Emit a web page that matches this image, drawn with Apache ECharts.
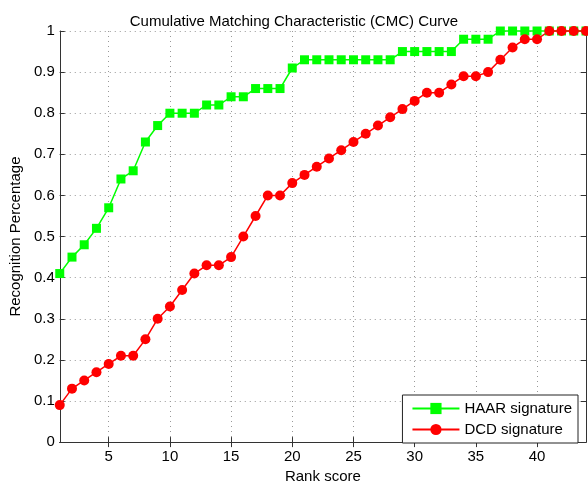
<!DOCTYPE html>
<html>
<head>
<meta charset="utf-8">
<script src="https://cdn.jsdelivr.net/npm/echarts@6/dist/echarts.min.js"></script>
<style>
html,body{margin:0;padding:0;background:#fff;}
#chart{width:588px;height:489px;}
</style>
</head>
<body>
<div id="chart"></div>
<script>
const ranks = [];
for (let i = 1; i <= 44; i++) ranks.push(String(i));

const haar = [0.41,0.45,0.48,0.52,0.57,0.64,0.66,0.73,0.77,0.80,
              0.80,0.80,0.82,0.82,0.84,0.84,0.86,0.86,0.86,0.91,
              0.93,0.93,0.93,0.93,0.93,0.93,0.93,0.93,0.95,0.95,
              0.95,0.95,0.95,0.98,0.98,0.98,1,1,1,1,
              1,1,1,1];
const dcd = [0.09,0.13,0.15,0.17,0.19,0.21,0.21,0.25,0.30,0.33,
             0.37,0.41,0.43,0.43,0.45,0.50,0.55,0.60,0.60,0.63,
             0.65,0.67,0.69,0.71,0.73,0.75,0.77,0.79,0.81,0.83,
             0.85,0.85,0.87,0.89,0.89,0.90,0.93,0.96,0.98,0.98,
             1,1,1,1];

const FONT = '"Liberation Sans", Arial, Helvetica, sans-serif';
const AXIS_COLOR = '#333';
const every5 = (idx, val) => Number(val) % 5 === 0;

const chart = echarts.init(document.getElementById('chart'));
chart.setOption({
  animation: false,
  backgroundColor: '#fff',
  textStyle: {fontFamily: FONT},
  title: {
    text: 'Cumulative Matching Characteristic (CMC) Curve',
    left: 'center', top: 9,
    textStyle: {fontFamily: FONT, fontSize: 15, fontWeight: 'normal', color: '#000'}
  },
  grid: {left: 57, right: 2, top: 31, bottom: 40, containLabel: false},
  legend: {
    orient: 'vertical', right: 10, bottom: 46,
    backgroundColor: '#fff', borderColor: '#222', borderWidth: 1,
    padding: [6, 6, 6, 9], itemGap: 6, itemWidth: 47, itemHeight: 14,
    textStyle: {fontFamily: FONT, fontSize: 15, color: '#000'},
    data: ['HAAR signature', 'DCD signature']
  },
  xAxis: [{
    type: 'category', data: ranks, boundaryGap: false,
    name: 'Rank score', nameLocation: 'middle', nameGap: 24,
    nameTextStyle: {fontFamily: FONT, fontSize: 15, color: '#000'},
    axisLine: {lineStyle: {color: AXIS_COLOR, width: 1}},
    axisTick: {inside: true, length: 5, interval: every5, lineStyle: {color: AXIS_COLOR}},
    axisLabel: {interval: every5, fontSize: 15, color: '#000', margin: 7, fontFamily: FONT},
    splitLine: {show: true, interval: every5, lineStyle: {color: '#999', type: [1, 4], width: 1}}
  }, {
    type: 'category', data: ranks, boundaryGap: false, position: 'top',
    axisLine: {lineStyle: {color: AXIS_COLOR, width: 1}},
    axisTick: {inside: true, length: 5, interval: every5, lineStyle: {color: AXIS_COLOR}},
    axisLabel: {show: false}, splitLine: {show: false}
  }],
  yAxis: [{
    type: 'value', min: 0, max: 1, interval: 0.1,
    name: 'Recognition Percentage', nameLocation: 'middle', nameGap: 33,
    nameTextStyle: {fontFamily: FONT, fontSize: 15, color: '#000'},
    axisLine: {show: true, lineStyle: {color: AXIS_COLOR, width: 1}},
    axisTick: {show: true, inside: true, length: 5, lineStyle: {color: AXIS_COLOR}},
    axisLabel: {fontSize: 15, color: '#000', margin: 5, fontFamily: FONT,
      formatter: v => String(Math.round(v * 10) / 10)},
    splitLine: {show: true, lineStyle: {color: '#999', type: [1, 4], width: 1}}
  }, {
    type: 'value', min: 0, max: 1, interval: 0.1, position: 'right',
    axisLine: {show: true, lineStyle: {color: AXIS_COLOR, width: 1}},
    axisTick: {show: true, inside: true, length: 5, lineStyle: {color: AXIS_COLOR}},
    axisLabel: {show: false}, splitLine: {show: false}
  }],
  series: [{
    name: 'HAAR signature', type: 'line', data: haar,
    symbol: 'rect', symbolSize: 9, clip: false, showAllSymbol: true,
    itemStyle: {color: '#00ff00'},
    lineStyle: {color: '#00ff00', width: 1.5}
  }, {
    name: 'DCD signature', type: 'line', data: dcd,
    symbol: 'circle', symbolSize: 10, clip: false, showAllSymbol: true,
    itemStyle: {color: '#ff0000'},
    lineStyle: {color: '#ff0000', width: 1.5}
  }]
});
</script>
</body>
</html>
